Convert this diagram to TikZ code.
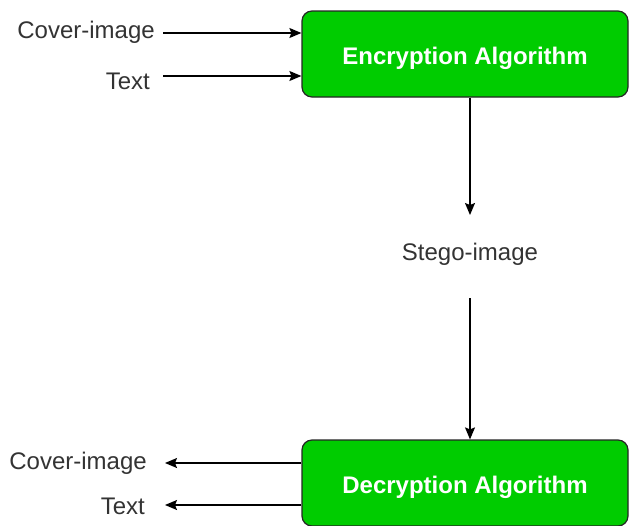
\documentclass[tikz,border=0pt]{standalone}
\usepackage{fontspec}
\setmainfont{Liberation Sans}
\usetikzlibrary{arrows.meta}
\definecolor{boxgreen}{HTML}{00CC00}
\definecolor{labelgray}{HTML}{333333}
\tikzset{
  algbox/.style={draw=black!85, line width=1.2pt, fill=boxgreen, rounded corners=10pt,
    minimum width=326pt, minimum height=86pt, inner sep=0pt,
    text height=22pt, text depth=2pt,
    text=white, font=\fontsize{24}{28}\selectfont\bfseries},
  lbl/.style={text=labelgray, font=\fontsize{24}{29}\selectfont, inner sep=0pt},
  arr/.style={line width=1.3pt, -{Stealth[length=12pt,width=10pt,inset=2pt]}},
}
\begin{document}
\begin{tikzpicture}[x=1pt,y=-1pt]
\useasboundingbox (0,0) rectangle (629,525);
\node[algbox] (enc) at (465,54) {Encryption Algorithm};
\node[algbox] (dec) at (465,483) {Decryption Algorithm};
\node[lbl, anchor=east] (ci1) at (155,32) {Cover-image};
\node[lbl, anchor=east] (tx1) at (150,81) {Text};
\node[lbl] (stego) at (470,254) {Stego-image};
\node[lbl, anchor=east] (ci2) at (147,463) {Cover-image};
\node[lbl, anchor=east] (tx2) at (145,506) {Text};
\coordinate (a1) at (163,33);
\coordinate (a2) at (163,76);
\draw[arr] (a1) -- (a1 -| enc.west);
\draw[arr] (a2) -- (a2 -| enc.west);
\coordinate (s1) at (470,215);
\coordinate (s2) at (470,298);
\draw[arr] (enc.south -| s1) -- (s1);
\draw[arr] (s2) -- (dec.north -| s2);
\coordinate (b1) at (165,463);
\coordinate (b2) at (165,505);
\draw[arr] (b1 -| dec.west) -- (b1);
\draw[arr] (b2 -| dec.west) -- (b2);
\end{tikzpicture}
\end{document}
